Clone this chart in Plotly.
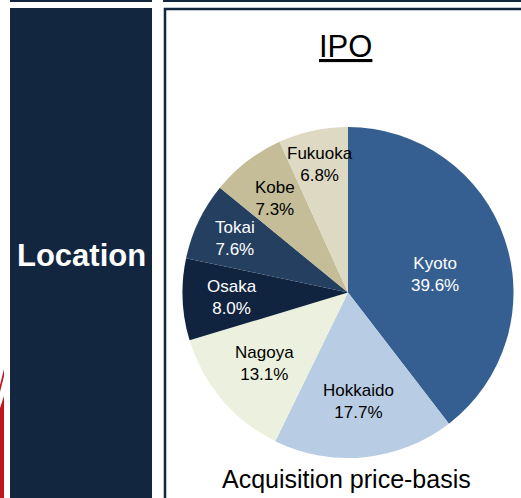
import math
import plotly.graph_objects as go

W, H = 521, 498

regions = ["Kyoto", "Hokkaido", "Nagoya", "Osaka", "Tokai", "Kobe", "Fukuoka"]
shares = [39.6, 17.7, 13.1, 8.0, 7.6, 7.3, 6.8]
slice_colors = ["#365F91", "#B8CCE4", "#EBF1DE", "#11243F", "#243F60", "#C4BD97", "#DDD9C3"]
text_colors = ["white", "black", "black", "white", "white", "black", "black"]
# label placement: fraction of radius, and small turn (deg) off the mid angle
label_radius = [0.54, 0.66, 0.66, 0.70, 0.76, 0.72, 0.79]
label_turn = [7, 0, 0, 0, 0, 0, 0]

NAVY = "#13263F"
FONT = "Liberation Sans, Arial, sans-serif"

# pie geometry in pixels
CX, CY, R = 348, 292.5, 165.5


def px(x):
    return x / W


def py(y):
    return 1 - y / H


fig = go.Figure()

fig.add_trace(go.Pie(
    labels=regions,
    values=shares,
    sort=False,
    direction="clockwise",
    rotation=0,
    marker=dict(colors=slice_colors, line=dict(width=0)),
    textinfo="none",
    hoverinfo="label+value",
    domain=dict(x=[px(CX - R), px(CX + R)], y=[py(CY + R), py(CY - R)]),
    showlegend=False,
))

shapes = [
    # top strips
    dict(type="rect", x0=px(10), x1=px(152), y0=py(2), y1=py(0), fillcolor=NAVY, line_width=0),
    dict(type="rect", x0=px(163), x1=px(521), y0=py(2), y1=py(0), fillcolor=NAVY, line_width=0),
    # left header panel
    dict(type="rect", x0=px(10), x1=px(152), y0=py(498), y1=py(8), fillcolor=NAVY, line_width=0),
    # right framed panel
    dict(type="rect", x0=px(165), x1=px(523), y0=py(500), y1=py(9), fillcolor="rgba(0,0,0,0)",
         line=dict(color=NAVY, width=2.5)),
    # red edge shape at far left
    dict(type="path", path=f"M {px(0)},{py(385)} L {px(4)},{py(369)} L {px(4)},{py(376)} L {px(0)},{py(392)} Z",
         fillcolor="#C0141E", line_width=0),
    dict(type="path", path=f"M {px(0)},{py(408)} L {px(4)},{py(396)} L {px(4)},{py(498)} L {px(0)},{py(498)} Z",
         fillcolor="#C0141E", line_width=0),
]

annotations = [
    dict(text="<b>Location</b>", x=px(81), y=py(256), xref="paper", yref="paper", showarrow=False,
         font=dict(family=FONT, size=31, color="white"), xanchor="center", yanchor="middle"),
    dict(text="<u>IPO</u>", x=px(345), y=py(46), xref="paper", yref="paper", showarrow=False,
         font=dict(family=FONT, size=31, color="black"), xanchor="center", yanchor="middle"),
    dict(text="Acquisition price-basis", x=px(347), y=py(479), xref="paper", yref="paper", showarrow=False,
         font=dict(family=FONT, size=25, color="black"), xanchor="center", yanchor="middle"),
]

# slice labels placed along each slice's mid angle
total = sum(shares)
cum = 0.0
for name, val, col, rf, turn in zip(regions, shares, text_colors, label_radius, label_turn):
    mid = (cum + val / 2) / total * 2 * math.pi + math.radians(turn)
    cum += val
    lx = CX + rf * R * math.sin(mid)
    ly = CY - rf * R * math.cos(mid)
    annotations.append(dict(
        text=f"{name}<br>{val:.1f}%", x=px(lx), y=py(ly), xref="paper", yref="paper",
        showarrow=False, xanchor="center", yanchor="middle",
        font=dict(family=FONT, size=17, color=col),
    ))

fig.update_layout(
    width=W,
    height=H,
    margin=dict(l=0, r=0, t=0, b=0),
    paper_bgcolor="white",
    plot_bgcolor="white",
    shapes=shapes,
    annotations=annotations,
    font=dict(family=FONT),
)

fig.write_html("out.html", post_script="document.body.style.margin='0';",
               config={"displayModeBar": False})
